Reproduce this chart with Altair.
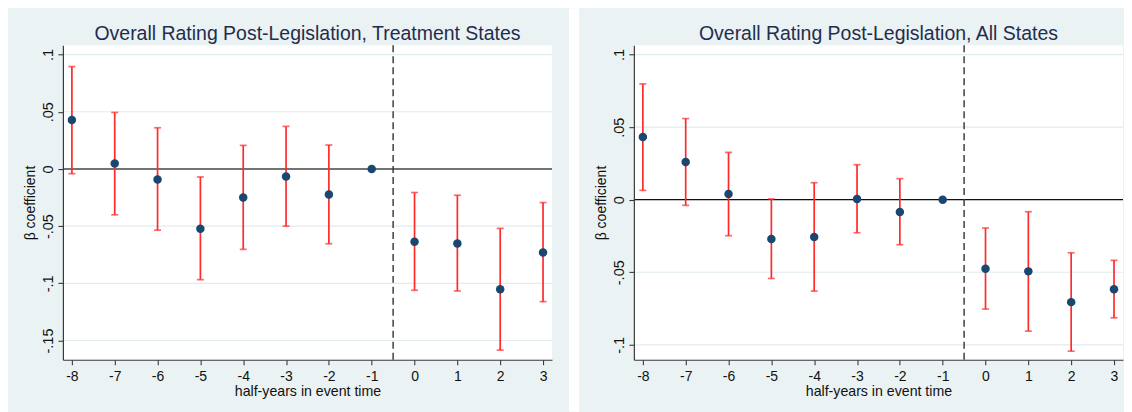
import altair as alt
import pandas as pd

# ---------------- data ----------------
x_vals = [-8, -7, -6, -5, -4, -3, -2, -1, 0, 1, 2, 3]
x_labels = ["-8", "-7", "-6", "-5", "-4", "-3", "-2", "-1", "0", "1", "2", "3"]
x_domain = [-8.21, 3.21]
event_line = [-0.5]

left_title = "Overall Rating Post-Legislation, Treatment States"
left_b = [0.0427, 0.0047, -0.0093, -0.0523, -0.0250, -0.0067, -0.0224, 0.0,
          -0.0637, -0.0651, -0.1052, -0.0730]
left_hi = [0.0895, 0.0494, 0.0360, -0.0070, 0.0206, 0.0372, 0.0209, None,
           -0.0206, -0.0230, -0.0520, -0.0294]
left_lo = [-0.0041, -0.0401, -0.0535, -0.0968, -0.0703, -0.0500, -0.0654, None,
           -0.1061, -0.1067, -0.1584, -0.1160]
left_ticks = [-0.15, -0.1, -0.05, 0, 0.05, 0.1]
left_tick_labels = ["-.15", "-.1", "-.05", "0", ".05", ".1"]
left_ydomain = [-0.1668, 0.1081]

right_title = "Overall Rating Post-Legislation, All States"
right_b = [0.0432, 0.0260, 0.0039, -0.0271, -0.0257, 0.0005, -0.0085, 0.0,
           -0.0476, -0.0494, -0.0706, -0.0618]
right_hi = [0.0798, 0.0559, 0.0326, 0.0005, 0.0117, 0.0241, 0.0145, None,
            -0.0195, -0.0083, -0.0366, -0.0418]
right_lo = [0.0064, -0.0039, -0.0248, -0.0543, -0.0630, -0.0228, -0.0310, None,
            -0.0754, -0.0906, -0.1044, -0.0814]
right_ticks = [-0.1, -0.05, 0, 0.05, 0.1]
right_tick_labels = ["-.1", "-.05", "0", ".05", ".1"]
right_ydomain = [-0.1103, 0.1064]

x_title = "half-years in event time"
y_title = "β coefficient"

# ---------------- style ----------------
W, H = 490, 315
TOP, BOT, LEFT = 37, 52, 55
BG = "#eaf2f3"
FONT = "Liberation Sans"
NAVY = "#1a476f"
RED = "#ff2b2b"


def label_expr(ticks, labels):
    parts = [f"abs(datum.value - ({t})) < 0.000001 ? '{l}'" for t, l in zip(ticks, labels)]
    return " : ".join(parts) + " : ''"


def panel(title, b, hi, lo, ticks, tick_labels, ydom, zero_color, zero_width, left_panel):
    pts = pd.DataFrame({"t": x_vals, "y": b})
    ci = pd.DataFrame({"t": x_vals, "y": lo, "y2": hi}).dropna()
    caps = pd.concat([
        pd.DataFrame({"t": ci["t"], "y": ci["y"]}),
        pd.DataFrame({"t": ci["t"], "y": ci["y2"]}),
    ])
    grid = pd.DataFrame({"y": ticks})
    zero = pd.DataFrame({"y": [0]})
    dash = pd.DataFrame({"t": event_line})

    xscale = alt.Scale(domain=x_domain, nice=False, zero=False)
    yscale = alt.Scale(domain=ydom, nice=False, zero=False)
    xaxis = alt.Axis(values=x_vals, labelExpr=label_expr(x_vals, x_labels),
                     title=x_title, grid=False, tickSize=5, tickColor="#3a3a3a",
                     tickWidth=1.1, domainColor="#3a3a3a", domainWidth=1.2,
                     labelFont=FONT, labelFontSize=14, labelColor="#111",
                     labelPadding=5, labelFlush=False, labelOverlap=False,
                     titleFont=FONT, titleFontSize=14.2, titleFontWeight="normal",
                     titleColor="#111", titlePadding=1, zindex=1)
    yaxis = alt.Axis(values=ticks, labelExpr=label_expr(ticks, tick_labels),
                     title=y_title, grid=False, tickSize=5, tickColor="#3a3a3a",
                     tickWidth=1.1, domainColor="#3a3a3a", domainWidth=1.2,
                     labelFont=FONT, labelFontSize=14.5, labelColor="#111",
                     labelAngle=270, labelAlign="center", labelBaseline="alphabetic",
                     labelPadding=5, labelFlush=False, labelOverlap=False,
                     titleFont=FONT, titleFontSize=14, titleFontWeight="normal",
                     titleColor="#111", titlePadding=3, zindex=1)
    X = alt.X("t:Q", scale=xscale, axis=xaxis)
    Y = alt.Y("y:Q", scale=yscale, axis=yaxis)

    layers = []
    if left_panel:
        # invisible spacer fixing the panel's outer left/top/bottom edges
        layers.append(alt.Chart(pd.DataFrame({"d": [0]})).mark_rect(color=BG).encode(
            x=alt.value(-LEFT), x2=alt.value(-LEFT + 1),
            y=alt.value(-TOP), y2=alt.value(H + BOT)))
    else:
        # white gap between the two panels
        layers.append(alt.Chart(pd.DataFrame({"d": [0]})).mark_rect(color="white").encode(
            x=alt.value(-LEFT - 10), x2=alt.value(-LEFT),
            y=alt.value(-TOP), y2=alt.value(H + BOT)))

    layers.append(alt.Chart(grid).mark_rule(color="#e2ebed", strokeWidth=1.2).encode(y=Y))
    layers.append(alt.Chart(zero).mark_rule(color=zero_color, strokeWidth=zero_width).encode(y=Y))
    layers.append(alt.Chart(dash).mark_rule(color="#333", strokeWidth=1.4,
                                            strokeDash=[7, 4]).encode(x=X))
    layers.append(alt.Chart(ci).mark_rule(color=RED, strokeWidth=1.7).encode(
        x=X, y=Y, y2="y2:Q"))
    layers.append(alt.Chart(caps).mark_tick(color=RED, orient="horizontal", size=7,
                                            thickness=1.7).encode(x=X, y=Y))
    layers.append(alt.Chart(pts).mark_circle(color=NAVY, size=72, opacity=1).encode(x=X, y=Y))

    return alt.layer(*layers).properties(
        width=W, height=H,
        title=alt.TitleParams(text=title, font=FONT, fontSize=19.5, fontWeight="normal",
                              color="#1f2d4d", anchor="middle", frame="group",
                              offset=-51, baseline="alphabetic"))


left = panel(left_title, left_b, left_hi, left_lo, left_ticks, left_tick_labels,
             left_ydomain, "#4a4a4a", 1.6, True)
right = panel(right_title, right_b, right_hi, right_lo, right_ticks, right_tick_labels,
              right_ydomain, "#111", 1.2, False)

chart = alt.hconcat(left, right, spacing=16).properties(
    padding=0, background=BG
).configure_view(fill="white", strokeWidth=0)

chart.save("out.html", embed_options={"renderer": "svg", "actions": False})
